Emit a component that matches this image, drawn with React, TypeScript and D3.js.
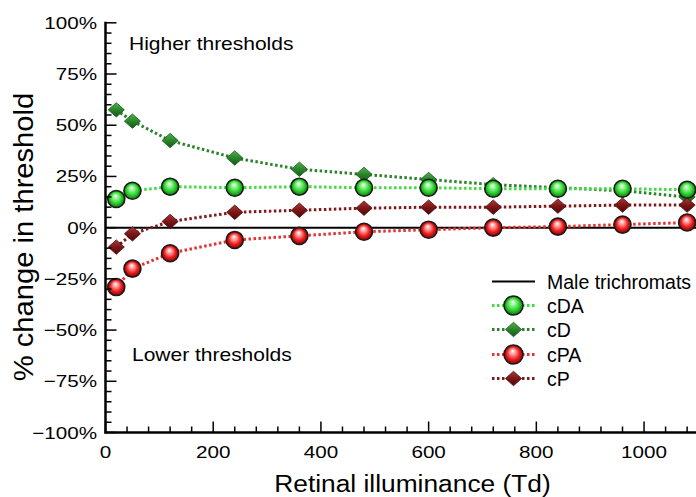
import React from "react";
import * as d3 from "d3";

const illuminance = [20, 50, 120, 240, 360, 480, 600, 720, 840, 960, 1080];
const cDA = [14, 18, 20, 19.5, 20, 19.5, 19.5, 19, 19, 19, 18.5];
const cD = [57.5, 52, 42.5, 34, 28.5, 26, 23.5, 21, 19.5, 18, 15];
const cPA = [-29, -20, -12.5, -6, -4, -2, -1, 0, 0.5, 1.5, 2.5];
const cP = [-9.5, -3, 3, 7.5, 8.5, 9.5, 10, 10, 10.5, 11, 11];
const yTickLabels = [-100, -75, -50, -25, 0, 25, 50, 75, 100];
const xTickLabels = [0, 200, 400, 600, 800, 1000];
const legendLabels = ["Male trichromats", "cDA", "cD", "cPA", "cP"];

const FONT = "'Liberation Sans', Arial, Helvetica, sans-serif";

type Series = {
  name: string;
  values: number[];
  kind: "circle" | "diamond";
  line: string;
  grad: string;
};

const seriesDraw: Series[] = [
  { name: "cD", values: cD, kind: "diamond", line: "#2b842b", grad: "gD" },
  { name: "cP", values: cP, kind: "diamond", line: "#7d1a1a", grad: "gP" },
  { name: "cDA", values: cDA, kind: "circle", line: "#3fdc3f", grad: "gDA" },
  { name: "cPA", values: cPA, kind: "circle", line: "#e23232", grad: "gPA" },
];

const legendSeries: Record<string, Series> = Object.fromEntries(
  seriesDraw.map((s) => [s.name, s])
);

function SText(props: {
  x: number;
  y: number;
  sx?: number;
  size: number;
  anchor?: "start" | "middle" | "end";
  rotate?: number;
  children: React.ReactNode;
}) {
  const { x, y, sx = 1, size, anchor = "start", rotate = 0, children } = props;
  return (
    <text
      transform={`translate(${x},${y}) rotate(${rotate}) scale(${sx},1)`}
      textAnchor={anchor}
      fontFamily={FONT}
      fontSize={size}
      fill="#000"
    >
      {children}
    </text>
  );
}

function Marker({ s, x, y, r }: { s: Series; x: number; y: number; r: number }) {
  if (s.kind === "circle") {
    return (
      <circle
        cx={x}
        cy={y}
        r={r}
        fill={`url(#${s.grad})`}
        stroke="#1a1a1a"
        strokeWidth={1.6}
      />
    );
  }
  const w = r * 0.95;
  const h = r * 0.85;
  return (
    <path
      d={`M${x},${y - h}L${x + w},${y}L${x},${y + h}L${x - w},${y}Z`}
      fill={`url(#${s.grad})`}
      stroke={s.name === "cD" ? "#1d5a1d" : "#4a0e0e"}
      strokeWidth={0.8}
    />
  );
}

export default function App() {
  const width = 696;
  const height = 497;
  const x = d3.scaleLinear().domain([0, 1100]).range([105.5, 697.9]);
  const y = d3.scaleLinear().domain([-100, 100]).range([432.5, 22.8]);

  const line = d3
    .line<number>()
    .x((_, i) => x(illuminance[i]))
    .y((d) => y(d));

  const yMinor = d3.range(-100, 100.001, 5);
  const xMinor = d3.range(0, 1100, 40);

  const legendX0 = 492;
  const legendX1 = 535;
  const legendMid = 513.5;
  const legendTextX = 547;
  const legendBase = [289, 313, 337, 362, 386];

  return (
    <svg
      width={width}
      height={height}
      style={{ position: "absolute", left: 0, top: 0, background: "#fff" }}
    >
      <defs>
        <radialGradient id="gDA" cx="0.5" cy="0.5" r="0.5" fx="0.45" fy="0.3">
          <stop offset="0" stopColor="#ffffff" />
          <stop offset="0.3" stopColor="#8ff58f" />
          <stop offset="0.65" stopColor="#2fd22f" />
          <stop offset="1" stopColor="#0a7a0a" />
        </radialGradient>
        <radialGradient id="gPA" cx="0.5" cy="0.5" r="0.5" fx="0.45" fy="0.3">
          <stop offset="0" stopColor="#ffffff" />
          <stop offset="0.3" stopColor="#ff9a9a" />
          <stop offset="0.65" stopColor="#ee2020" />
          <stop offset="1" stopColor="#8a0000" />
        </radialGradient>
        <linearGradient id="gD" x1="0" y1="0" x2="0" y2="1">
          <stop offset="0" stopColor="#4fb04f" />
          <stop offset="0.5" stopColor="#2a852a" />
          <stop offset="1" stopColor="#14561a" />
        </linearGradient>
        <linearGradient id="gP" x1="0" y1="0" x2="0" y2="1">
          <stop offset="0" stopColor="#a83a3a" />
          <stop offset="0.5" stopColor="#7d1515" />
          <stop offset="1" stopColor="#4f0808" />
        </linearGradient>
      </defs>

      {/* zero line */}
      <line
        x1={x(0)}
        x2={width}
        y1={y(0)}
        y2={y(0)}
        stroke="#000"
        strokeWidth={2}
      />

      {/* series */}
      {seriesDraw.map((s) => (
        <g key={s.name}>
          <path
            d={line(s.values) || ""}
            fill="none"
            stroke={s.line}
            strokeWidth={3}
            strokeDasharray="2.5 2.5"
          />
          {s.values.map((v, i) => (
            <Marker key={i} s={s} x={x(illuminance[i])} y={y(v)} r={s.kind === "circle" ? 8.5 : 8.5} />
          ))}
        </g>
      ))}

      {/* axes */}
      <line x1={x(0)} x2={x(0)} y1={y(100) - 1} y2={y(-100) + 1} stroke="#000" strokeWidth={2.5} />
      <line x1={x(0) - 1} x2={width} y1={y(-100)} y2={y(-100)} stroke="#000" strokeWidth={2.5} />
      {yMinor.map((v) => {
        const major = Math.abs(v % 25) < 1e-6;
        return (
          <line
            key={"ym" + v}
            x1={x(0)}
            x2={x(0) + (major ? 11 : 6)}
            y1={y(v)}
            y2={y(v)}
            stroke="#000"
            strokeWidth={1.5}
          />
        );
      })}
      {xMinor.map((v) => {
        const major = v % 200 === 0;
        return (
          <line
            key={"xm" + v}
            x1={x(v)}
            x2={x(v)}
            y1={y(-100)}
            y2={y(-100) - (major ? 11 : 6)}
            stroke="#000"
            strokeWidth={1.5}
          />
        );
      })}

      {yTickLabels.map((v) => (
        <SText key={"yl" + v} x={97} y={y(v) + 6} size={17.2} sx={1.2} anchor="end">
          {(v < 0 ? "\u2212" + Math.abs(v) : String(v)) + "%"}
        </SText>
      ))}
      {xTickLabels.map((v) => (
        <SText key={"xl" + v} x={x(v)} y={458} size={17.2} sx={1.2} anchor="middle">
          {String(v)}
        </SText>
      ))}

      <SText x={129} y={50} size={17.5} sx={1.2}>
        Higher thresholds
      </SText>
      <SText x={132} y={361} size={17.5} sx={1.2}>
        Lower thresholds
      </SText>

      <SText x={412.5} y={492} size={23.3} sx={1.13} anchor="middle">
        Retinal illuminance (Td)
      </SText>
      <SText x={33} y={237} size={27} sx={1.08} anchor="middle" rotate={-90}>
        % change in threshold
      </SText>

      {/* legend */}
      {legendLabels.map((name, i) => {
        const base = legendBase[i];
        const cy = base - 7.5;
        const s = legendSeries[name];
        return (
          <g key={"lg" + name}>
            {s ? (
              <>
                <line
                  x1={legendX0}
                  x2={legendX1}
                  y1={cy}
                  y2={cy}
                  stroke={s.line}
                  strokeWidth={3}
                  strokeDasharray="2.5 2.5"
                />
                <Marker s={s} x={legendMid} y={cy} r={s.kind === "circle" ? 9.5 : 8.5} />
              </>
            ) : (
              <line x1={legendX0} x2={legendX1} y1={cy} y2={cy} stroke="#000" strokeWidth={2} />
            )}
            <SText x={legendTextX} y={base} size={19.5}>
              {name}
            </SText>
          </g>
        );
      })}
    </svg>
  );
}
